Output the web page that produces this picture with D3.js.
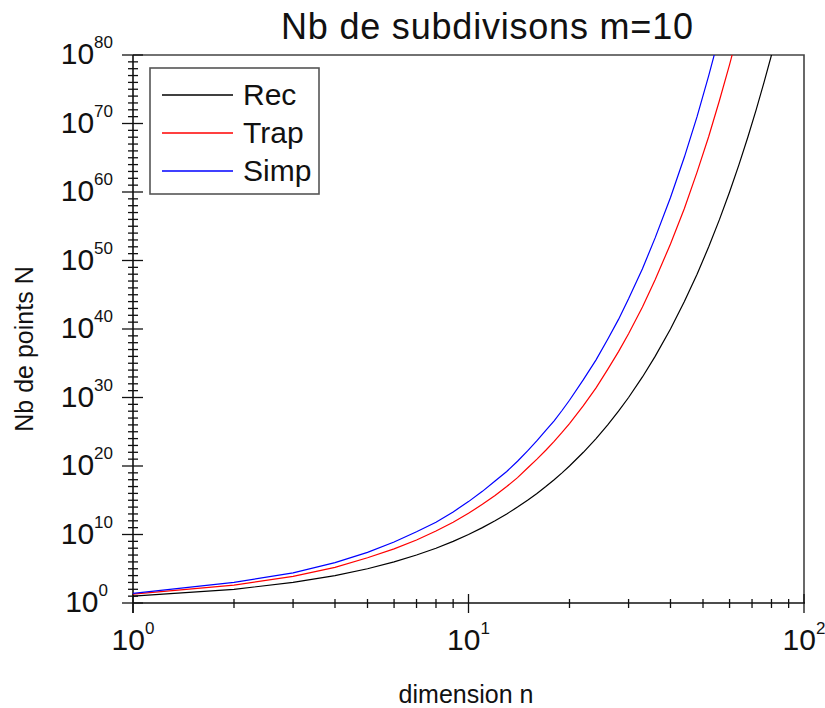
<!DOCTYPE html>
<html>
<head>
<meta charset="utf-8">
<script src="https://cdn.jsdelivr.net/npm/d3@7"></script>
<style>
  body { margin: 0; background: #fff; }
  text { font-family: "Liberation Sans", Arial, sans-serif; fill: #111; }
</style>
</head>
<body>
<div id="chart"></div>
<script>
// dimension n (x) and log10 of N (y)
const dims     = [1,2,3,4,5,6,7,8,9,10,11,12,13,14,15,16,17,18,19,20,22,24,26,28,30,33,36,40,44,48,52,56,60,64,68,72,76,80,84];
const recExp   = [1,2,3,4,5,6,7,8,9,10,11,12,13,14,15,16,17,18,19,20,22,24,26,28,30,33,36,40,44,48,52,56,60,64,68,72,76,80,84];
const trapExp  = [1.3,2.6,3.9,5.2,6.6,7.9,9.2,10.5,11.8,13.1,14.4,15.7,17.0,18.3,19.7,21.0,22.3,23.6,24.9,26.2,28.8,31.4,34.1,36.7,39.3,43.2,47.2,52.4,57.6,62.9,68.1,73.4,78.6,83.8,89.1,94.3,99.6,104.8,110.0];
const simpExp  = [1.4,3.0,4.4,5.9,7.4,8.9,10.4,11.8,13.3,14.8,16.3,17.8,19.2,20.7,22.2,23.7,25.2,26.6,28.1,29.6,32.6,35.5,38.5,41.4,44.4,48.8,53.3,59.2,65.1,71.0,77.0,82.9,88.8,94.7,100.6,106.6,112.5,118.4,124.3];

const seriesNames  = ["Rec", "Trap", "Simp"];
const seriesColors = ["#000000", "#ff0000", "#0000ff"];
const seriesExps   = [recExp, trapExp, simpExp];

// tick exponents
const xMajorExp = [0, 1, 2];
const yMajorExp = [0, 10, 20, 30, 40, 50, 60, 70, 80];

const W = 825, H = 708;
const pl = 133, pr = 804, pt = 55, pb = 603;

const svg = d3.select("#chart").append("svg")
  .attr("width", W).attr("height", H);

const x = d3.scaleLog().domain([1, 100]).range([pl, pr]);
const y = d3.scaleLog().domain([1, 1e80]).range([pb, pt]);

// clip for curves
svg.append("clipPath").attr("id", "plot")
  .append("rect")
  .attr("x", pl).attr("y", pt)
  .attr("width", pr - pl).attr("height", pb - pt);

// frame (top + right)
svg.append("path")
  .attr("d", `M${pl},${pt}H${pr}V${pb}`)
  .attr("fill", "none").attr("stroke", "#444").attr("stroke-width", 1.6);

// axes lines
svg.append("line").attr("x1", pl).attr("x2", pr + 1).attr("y1", pb).attr("y2", pb)
  .attr("stroke", "#111").attr("stroke-width", 1.6);
svg.append("line").attr("x1", pl).attr("x2", pl).attr("y1", pt).attr("y2", pb + 10)
  .attr("stroke", "#111").attr("stroke-width", 1.6);

// y ticks
const yMinor = d3.range(1, 80).filter(e => e % 10 !== 0);
svg.append("g").selectAll("line").data(yMinor).join("line")
  .attr("x1", pl - 5).attr("x2", pl + 5)
  .attr("y1", e => y(Math.pow(10, e))).attr("y2", e => y(Math.pow(10, e)))
  .attr("stroke", "#111").attr("stroke-width", 1.3);
svg.append("g").selectAll("line").data(yMajorExp).join("line")
  .attr("x1", pl - 11).attr("x2", pl + 10)
  .attr("y1", e => y(Math.pow(10, e))).attr("y2", e => y(Math.pow(10, e)))
  .attr("stroke", "#111").attr("stroke-width", 1.3);

// x ticks
const xMinor = [2,3,4,5,6,7,8,9,20,30,40,50,60,70,80,90];
svg.append("g").selectAll("line").data(xMinor).join("line")
  .attr("x1", d => x(d)).attr("x2", d => x(d))
  .attr("y1", pb - 4).attr("y2", pb + 5)
  .attr("stroke", "#111").attr("stroke-width", 1.3);
svg.append("g").selectAll("line").data(xMajorExp).join("line")
  .attr("x1", e => x(Math.pow(10, e))).attr("x2", e => x(Math.pow(10, e)))
  .attr("y1", pb - 9).attr("y2", pb + 10)
  .attr("stroke", "#111").attr("stroke-width", 1.3);

// tick labels as 10^k
function powLabel(sel) {
  sel.append("tspan").text("10").style("font-size", "30px");
  sel.append("tspan").attr("dy", -16).text(e => e).style("font-size", "17px");
}
svg.append("g").selectAll("text").data(yMajorExp).join("text")
  .attr("x", e => e === 0 ? 108 : 113)
  .attr("y", e => y(Math.pow(10, e)) + 9)
  .attr("text-anchor", "end")
  .call(powLabel);
svg.append("g").selectAll("text").data(xMajorExp).join("text")
  .attr("x", e => x(Math.pow(10, e)))
  .attr("y", 650)
  .attr("text-anchor", "middle")
  .call(powLabel);

// curves
const line = d3.line()
  .x(d => x(d[0]))
  .y(d => y(Math.pow(10, d[1])));
svg.append("g").attr("clip-path", "url(#plot)")
  .selectAll("path").data(seriesExps).join("path")
  .attr("d", ex => line(dims.map((n, i) => [n, ex[i]])))
  .attr("fill", "none")
  .attr("stroke", (d, i) => seriesColors[i])
  .attr("stroke-width", 1.2);

// title + axis labels
svg.append("text")
  .attr("x", 487).attr("y", 39)
  .attr("text-anchor", "middle")
  .attr("textLength", 412)
  .style("font-size", "36px")
  .text("Nb de subdivisons m=10");

svg.append("text")
  .attr("x", 466).attr("y", 703)
  .attr("text-anchor", "middle")
  .style("font-size", "25px")
  .text("dimension n");

svg.append("text")
  .attr("transform", "translate(33,349) rotate(-90)")
  .attr("text-anchor", "middle")
  .style("font-size", "25px")
  .text("Nb de points N");

// legend
const legend = svg.append("g");
legend.append("rect")
  .attr("x", 150).attr("y", 68).attr("width", 169).attr("height", 126)
  .attr("fill", "#fff").attr("stroke", "#555").attr("stroke-width", 1.6);
const items = legend.selectAll("g").data(seriesNames).join("g")
  .attr("transform", (d, i) => `translate(0,${95 + i * 38})`);
items.append("line")
  .attr("x1", 162).attr("x2", 233)
  .attr("stroke", (d, i) => seriesColors[i]).attr("stroke-width", 1.4);
items.append("text")
  .attr("x", 243).attr("y", 10)
  .style("font-size", "30px")
  .text(d => d);
</script>
</body>
</html>
